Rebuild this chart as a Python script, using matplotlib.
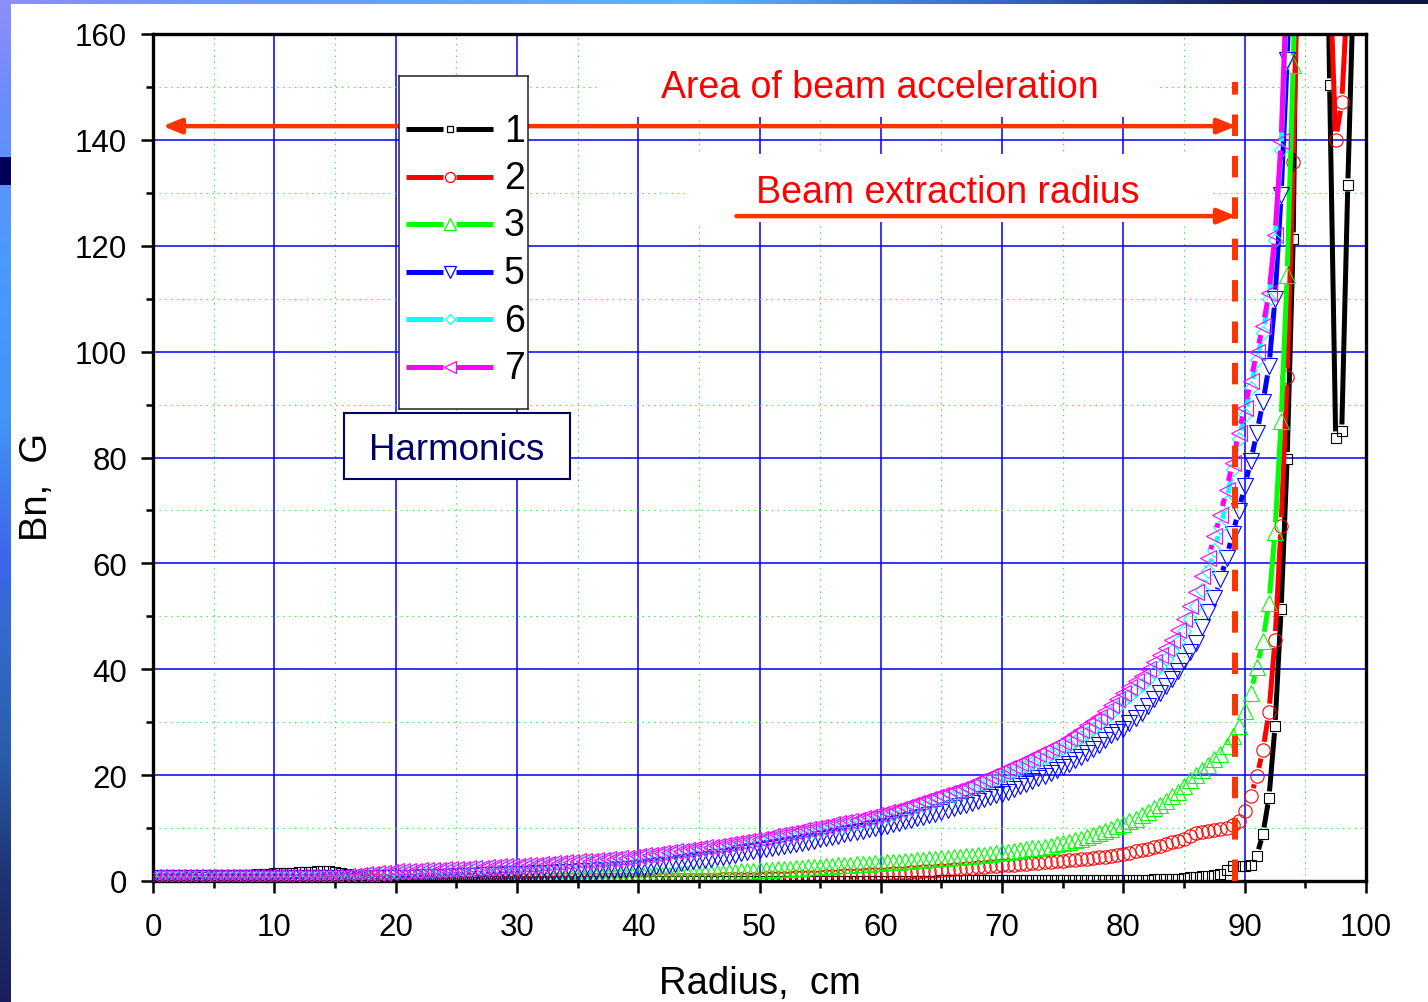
import numpy as np
import matplotlib
matplotlib.use('Agg')
import matplotlib.pyplot as plt
from matplotlib.collections import LineCollection
from matplotlib.patches import Rectangle
from matplotlib.ticker import MultipleLocator

plt.rcParams['font.family'] = ['Liberation Sans', 'DejaVu Sans']

W, H = 1428, 1003

# radius grid of the field map, cm (0.5 cm step)
radius = np.arange(0, 100.5, 0.5)

# harmonic amplitudes Bn, G
bn_1 = [0.4, 0.45, 0.5, 0.55, 0.6, 0.65, 0.7, 0.75, 0.8, 0.85,
        0.9, 0.95, 1.0, 1.05, 1.1, 1.15, 1.2, 1.3, 1.35, 1.4,
        1.45, 1.5, 1.55, 1.6, 1.65, 1.7, 1.75, 1.8, 1.8, 1.8,
        1.75, 1.6, 1.3, 0.9, 0.5, 0.25, 0.1, 0.05, 0.05, 0.05,
        0.05, 0.05, 0.05, 0.05, 0.05, 0.05, 0.05, 0.05, 0.05, 0.05,
        0.05, 0.05, 0.05, 0.05, 0.05, 0.05, 0.05, 0.05, 0.05, 0.05,
        0.05, 0.05, 0.05, 0.05, 0.05, 0.05, 0.05, 0.05, 0.05, 0.05,
        0.05, 0.05, 0.05, 0.05, 0.05, 0.05, 0.05, 0.05, 0.05, 0.05,
        0.05, 0.05, 0.05, 0.05, 0.05, 0.05, 0.05, 0.05, 0.05, 0.05,
        0.05, 0.05, 0.05, 0.05, 0.05, 0.05, 0.05, 0.05, 0.05, 0.05,
        0.05, 0.05, 0.05, 0.05, 0.05, 0.05, 0.05, 0.05, 0.05, 0.05,
        0.05, 0.05, 0.05, 0.05, 0.05, 0.05, 0.05, 0.05, 0.05, 0.05,
        0.05, 0.05, 0.05, 0.05, 0.05, 0.05, 0.05, 0.05, 0.05, 0.05,
        0.1, 0.1, 0.1, 0.1, 0.1, 0.1, 0.1, 0.1, 0.1, 0.1,
        0.1, 0.1, 0.1, 0.1, 0.1, 0.12, 0.14, 0.16, 0.18, 0.2,
        0.2, 0.2, 0.2, 0.2, 0.2, 0.2, 0.2, 0.2, 0.2, 0.2,
        0.2, 0.2, 0.2, 0.25, 0.25, 0.3, 0.3, 0.35, 0.4, 0.45,
        0.6, 0.7, 0.8, 0.9, 1.0, 1.2, 1.4, 2.0, 2.9, 2.9,
        2.9, 3.0, 4.8, 8.9, 15.7, 29.2, 51.3, 79.8, 121.3, 218.0,
        290.0, 320.0, 300.0, 230.0, 150.4, 83.7, 85.0, 131.5, 172.0]

bn_2 = [0.2, 0.2, 0.2, 0.2, 0.2, 0.2, 0.2, 0.2, 0.2, 0.2,
        0.2, 0.2, 0.2, 0.2, 0.2, 0.2, 0.2, 0.2, 0.2, 0.2,
        0.2, 0.2, 0.2, 0.2, 0.2, 0.2, 0.2, 0.2, 0.2, 0.2,
        0.2, 0.2, 0.2, 0.2, 0.2, 0.2, 0.2, 0.2, 0.2, 0.2,
        0.2, 0.2, 0.2, 0.2, 0.2, 0.2, 0.2, 0.2, 0.2, 0.2,
        0.2, 0.2, 0.2, 0.2, 0.2, 0.2, 0.2, 0.2, 0.2, 0.2,
        0.2, 0.2, 0.2, 0.2, 0.2, 0.2, 0.2, 0.2, 0.2, 0.2,
        0.2, 0.2, 0.2, 0.2, 0.2, 0.2, 0.2, 0.2, 0.2, 0.2,
        0.2, 0.2, 0.2, 0.2, 0.2, 0.2, 0.2, 0.2, 0.2, 0.2,
        0.2, 0.2, 0.25, 0.25, 0.3, 0.3, 0.35, 0.35, 0.4, 0.4,
        0.45, 0.5, 0.5, 0.55, 0.6, 0.65, 0.7, 0.7, 0.75, 0.8,
        0.85, 0.9, 0.95, 1.0, 1.05, 1.1, 1.15, 1.2, 1.25, 1.3,
        1.35, 1.4, 1.5, 1.55, 1.6, 1.7, 1.75, 1.8, 1.9, 1.95,
        2.05, 2.1, 2.2, 2.3, 2.4, 2.5, 2.6, 2.7, 2.8, 2.9,
        3.0, 3.05, 3.1, 3.2, 3.3, 3.4, 3.45, 3.55, 3.65, 3.75,
        3.85, 3.95, 4.05, 4.15, 4.25, 4.35, 4.45, 4.6, 4.75, 4.9,
        5.1, 5.35, 5.6, 5.85, 6.1, 6.4, 6.7, 7.0, 7.3, 7.65,
        8.0, 8.5, 9.0, 9.3, 9.5, 9.65, 9.8, 10.1, 10.6, 11.4,
        13.2, 16.0, 19.8, 24.7, 31.9, 45.6, 67.1, 95.2, 135.8, 185.0,
        240.0, 280.0, 260.0, 210.0, 173.0, 140.0, 147.1, 168.6]

bn_3 = [0.4, 0.4, 0.4, 0.4, 0.4, 0.4, 0.4, 0.4, 0.4, 0.4,
        0.4, 0.4, 0.4, 0.4, 0.4, 0.4, 0.4, 0.4, 0.4, 0.4,
        0.4, 0.4, 0.4, 0.4, 0.4, 0.4, 0.4, 0.4, 0.4, 0.4,
        0.4, 0.4, 0.4, 0.4, 0.4, 0.4, 0.4, 0.4, 0.4, 0.4,
        0.4, 0.4, 0.4, 0.4, 0.4, 0.4, 0.4, 0.4, 0.4, 0.4,
        0.4, 0.4, 0.4, 0.4, 0.4, 0.4, 0.4, 0.4, 0.4, 0.4,
        0.4, 0.4, 0.45, 0.45, 0.5, 0.5, 0.5, 0.55, 0.55, 0.6,
        0.6, 0.65, 0.65, 0.7, 0.75, 0.75, 0.8, 0.85, 0.85, 0.9,
        0.9, 0.95, 1.0, 1.05, 1.1, 1.15, 1.2, 1.25, 1.3, 1.35,
        1.4, 1.45, 1.5, 1.55, 1.6, 1.7, 1.75, 1.8, 1.9, 1.95,
        2.0, 2.05, 2.15, 2.2, 2.3, 2.35, 2.45, 2.5, 2.6, 2.65,
        2.7, 2.8, 2.85, 2.95, 3.0, 3.1, 3.15, 3.25, 3.3, 3.4,
        3.4, 3.5, 3.6, 3.65, 3.75, 3.85, 3.95, 4.05, 4.1, 4.2,
        4.3, 4.4, 4.5, 4.6, 4.7, 4.8, 4.9, 5.0, 5.15, 5.25,
        5.4, 5.55, 5.7, 5.85, 6.0, 6.15, 6.3, 6.5, 6.7, 6.95,
        7.2, 7.45, 7.7, 8.0, 8.3, 8.6, 9.0, 9.4, 9.8, 10.3,
        10.8, 11.3, 11.8, 12.4, 13.0, 13.7, 14.4, 15.2, 16.0, 16.9,
        18.0, 19.0, 20.0, 21.0, 22.0, 23.0, 24.0, 25.5, 27.3, 29.3,
        32.2, 35.6, 40.4, 45.4, 52.6, 66.0, 86.9, 114.4, 154.2, 200.0]

bn_5 = [0.5, 0.5, 0.5, 0.5, 0.5, 0.5, 0.5, 0.5, 0.5, 0.5,
        0.5, 0.5, 0.5, 0.5, 0.5, 0.5, 0.5, 0.5, 0.5, 0.5,
        0.5, 0.5, 0.5, 0.5, 0.5, 0.5, 0.5, 0.5, 0.5, 0.5,
        0.5, 0.5, 0.5, 0.5, 0.5, 0.5, 0.55, 0.55, 0.55, 0.6,
        0.6, 0.6, 0.65, 0.65, 0.7, 0.7, 0.75, 0.75, 0.8, 0.85,
        0.9, 0.95, 1.0, 1.0, 1.05, 1.1, 1.15, 1.2, 1.25, 1.3,
        1.3, 1.35, 1.4, 1.45, 1.5, 1.55, 1.6, 1.65, 1.7, 1.75,
        1.8, 1.85, 1.9, 1.95, 2.0, 2.05, 2.1, 2.2, 2.25, 2.3,
        2.4, 2.5, 2.65, 2.8, 2.95, 3.1, 3.25, 3.4, 3.55, 3.7,
        3.9, 4.05, 4.25, 4.45, 4.6, 4.8, 5.0, 5.2, 5.4, 5.6,
        5.8, 6.0, 6.2, 6.4, 6.6, 6.8, 7.0, 7.25, 7.45, 7.65,
        7.9, 8.1, 8.35, 8.55, 8.8, 9.0, 9.25, 9.5, 9.75, 10.0,
        10.2, 10.45, 10.75, 11.0, 11.3, 11.55, 11.85, 12.15, 12.45, 12.75,
        13.1, 13.4, 13.75, 14.1, 14.45, 14.8, 15.15, 15.5, 15.9, 16.2,
        16.5, 16.9, 17.4, 17.9, 18.4, 18.9, 19.4, 19.9, 20.4, 20.9,
        21.5, 22.1, 22.8, 23.5, 24.2, 24.9, 25.7, 26.6, 27.6, 28.2,
        28.8, 29.8, 30.8, 31.8, 33.0, 34.3, 35.6, 36.9, 38.2, 39.7,
        41.5, 43.2, 45.0, 47.9, 50.8, 53.5, 57.0, 61.1, 65.5, 69.9,
        74.6, 79.3, 84.7, 90.4, 97.2, 110.0, 129.6, 155.0, 190.0]

bn_6 = [0.6, 0.6, 0.6, 0.6, 0.6, 0.6, 0.6, 0.6, 0.6, 0.6,
        0.6, 0.6, 0.6, 0.6, 0.6, 0.6, 0.6, 0.6, 0.6, 0.6,
        0.6, 0.6, 0.6, 0.6, 0.6, 0.6, 0.65, 0.65, 0.7, 0.7,
        0.7, 0.75, 0.8, 0.9, 1.0, 1.15, 1.3, 1.4, 1.5, 1.6,
        1.65, 1.7, 1.75, 1.8, 1.85, 1.9, 1.95, 2.0, 2.05, 2.1,
        2.15, 2.2, 2.25, 2.3, 2.4, 2.45, 2.5, 2.55, 2.6, 2.65,
        2.7, 2.8, 2.85, 2.9, 3.0, 3.05, 3.15, 3.2, 3.3, 3.4,
        3.5, 3.55, 3.65, 3.75, 3.8, 3.9, 4.0, 4.1, 4.2, 4.3,
        4.45, 4.6, 4.75, 4.9, 5.0, 5.15, 5.3, 5.45, 5.6, 5.75,
        5.9, 6.05, 6.2, 6.35, 6.5, 6.65, 6.85, 7.05, 7.25, 7.45,
        7.6, 7.8, 8.0, 8.2, 8.45, 8.65, 8.9, 9.1, 9.3, 9.5,
        9.7, 9.95, 10.15, 10.4, 10.65, 10.85, 11.05, 11.3, 11.55, 11.8,
        12.1, 12.35, 12.65, 12.95, 13.3, 13.65, 14.0, 14.35, 14.7, 15.05,
        15.4, 15.8, 16.15, 16.55, 16.95, 17.35, 17.9, 18.35, 18.85, 19.3,
        19.8, 20.3, 20.75, 21.25, 21.7, 22.2, 22.75, 23.3, 23.9, 24.5,
        25.1, 25.75, 26.5, 27.25, 28.0, 28.8, 29.6, 30.6, 31.7, 32.8,
        34.0, 35.0, 36.0, 37.1, 38.2, 39.4, 40.6, 42.0, 43.4, 45.2,
        47.2, 49.5, 52.0, 55.0, 58.5, 62.5, 66.8, 71.6, 77.8, 83.5,
        88.0, 93.2, 98.5, 103.5, 110.0, 121.0, 138.0, 168.0]

bn_7 = [0.7, 0.7, 0.7, 0.7, 0.7, 0.7, 0.7, 0.7, 0.7, 0.7,
        0.7, 0.7, 0.7, 0.7, 0.7, 0.7, 0.7, 0.7, 0.7, 0.7,
        0.7, 0.7, 0.7, 0.7, 0.7, 0.7, 0.75, 0.75, 0.8, 0.8,
        0.8, 0.85, 0.9, 1.0, 1.1, 1.25, 1.4, 1.5, 1.6, 1.7,
        1.8, 1.85, 1.9, 1.95, 2.0, 2.05, 2.1, 2.15, 2.2, 2.25,
        2.3, 2.35, 2.4, 2.5, 2.55, 2.6, 2.7, 2.75, 2.8, 2.85,
        2.9, 3.0, 3.05, 3.1, 3.2, 3.3, 3.35, 3.45, 3.55, 3.6,
        3.7, 3.8, 3.85, 3.95, 4.05, 4.1, 4.2, 4.3, 4.4, 4.55,
        4.7, 4.85, 5.0, 5.15, 5.3, 5.45, 5.6, 5.75, 5.9, 6.05,
        6.2, 6.35, 6.5, 6.65, 6.8, 6.95, 7.2, 7.4, 7.6, 7.8,
        8.0, 8.2, 8.45, 8.65, 8.9, 9.1, 9.35, 9.6, 9.8, 10.0,
        10.2, 10.45, 10.7, 10.95, 11.2, 11.4, 11.6, 11.9, 12.1, 12.4,
        12.7, 13.0, 13.3, 13.65, 14.0, 14.35, 14.7, 15.1, 15.45, 15.8,
        16.2, 16.6, 17.0, 17.4, 17.8, 18.2, 18.8, 19.3, 19.8, 20.3,
        20.8, 21.3, 21.8, 22.3, 22.8, 23.3, 23.9, 24.5, 25.1, 25.7,
        26.3, 27.0, 27.8, 28.6, 29.4, 30.2, 31.0, 32.1, 33.2, 34.3,
        35.5, 36.6, 37.7, 38.8, 40.0, 41.3, 42.6, 44.0, 45.5, 47.4,
        49.5, 52.0, 54.5, 57.7, 61.0, 65.1, 69.2, 73.9, 79.0, 84.7,
        89.4, 94.5, 99.9, 104.8, 111.0, 122.1, 139.7, 172.0]

harmonic_labels = ['1', '2', '3', '5', '6', '7']
harmonic_values = [bn_1, bn_2, bn_3, bn_5, bn_6, bn_7]
colors = ['#000000', '#ff0000', '#00ff00', '#0000ff', '#00ffff', '#ff00ff']
markers = ['s', 'o', '^', 'v', 'D', '<']
marker_sizes = [6.6, 9.6, 11.0, 11.0, 7.3, 11.0]   # pt
gaps = [6.5, 8.5, 9.0, 9.0, 9.0, 9.0]              # px, line gap around symbols

extraction_radius = 89.2
accel_arrow = (0.8, 89.3, 142.6)     # x from, x to, level
extract_arrow = (48.1, 89.3, 125.6)

arrow_color = '#ff3300'
text_red = '#ff0000'
navy = '#000066'


def fig_box(x0, y0, x1, y1):
    return [x0 / W, 1 - y1 / H, (x1 - x0) / W, (y1 - y0) / H]


def gapped_line(ax, x, y, gap, color, lw, z):
    # line segments that stop short of each symbol, as in Origin
    x0, x1 = ax.get_xlim()
    y0, y1 = ax.get_ylim()
    sx = ax.bbox.width / (x1 - x0)
    sy = ax.bbox.height / (y1 - y0)
    segs = []
    for i in range(len(x) - 1):
        dx, dy = x[i + 1] - x[i], y[i + 1] - y[i]
        d = np.hypot(dx * sx, dy * sy)
        if d <= 2 * gap:
            continue
        f = gap / d
        segs.append([(x[i] + dx * f, y[i] + dy * f),
                     (x[i + 1] - dx * f, y[i + 1] - dy * f)])
    lc = LineCollection(segs, colors=color, linewidths=lw, zorder=z,
                        capstyle='butt')
    ax.add_collection(lc, autolim=False)


fig = plt.figure(figsize=(W / 100, H / 100), dpi=100)

# slide background: blue strips along the left and top edges
bg = fig.add_axes([0, 0, 1, 1], zorder=-10)
img = np.ones((H, W, 3))
rows = np.arange(H)
stops_y = [0, 100, 250, 420, 560, 640, 760, 880, 1003]
stops_c = np.array([[0.56, 0.56, 0.98], [0.42, 0.55, 1.0], [0.30, 0.60, 1.0],
                    [0.26, 0.58, 0.96], [0.24, 0.40, 0.92], [0.20, 0.42, 0.80],
                    [0.16, 0.36, 0.66], [0.12, 0.20, 0.45], [0.10, 0.12, 0.36]])
left = np.stack([np.interp(rows, stops_y, stops_c[:, k]) for k in range(3)], axis=1)
img[:, :11] = left[:, None, :]
img[158:186, :11] = [0.0, 0.0, 0.35]
cols = np.arange(W)
stops_x = [0, 300, 700, 1000, 1250, 1428]
stops_t = np.array([[0.55, 0.55, 1.0], [0.40, 0.62, 1.0], [0.35, 0.70, 1.0],
                    [0.22, 0.40, 0.80], [0.08, 0.12, 0.35], [0.05, 0.08, 0.25]])
top = np.stack([np.interp(cols, stops_x, stops_t[:, k]) for k in range(3)], axis=1)
img[:5, :] = top[None, :, :]
bg.imshow(img, extent=[0, W, H, 0], aspect='auto', interpolation='nearest')
bg.set_xlim(0, W)
bg.set_ylim(H, 0)
bg.axis('off')

ax = fig.add_axes(fig_box(153, 35, 1366, 882))
ax.set_xlim(0, 100)
ax.set_ylim(0, 160)
ax.set_axisbelow(True)

ax.xaxis.set_major_locator(MultipleLocator(10))
ax.xaxis.set_minor_locator(MultipleLocator(5))
ax.yaxis.set_major_locator(MultipleLocator(20))
ax.yaxis.set_minor_locator(MultipleLocator(10))
ax.grid(which='major', color='#0000ff', lw=1.1)
ax.grid(which='minor', color='#33ee33', lw=0.8, linestyle=(0, (1.3, 4)))
ax.tick_params(which='major', direction='out', length=8.6, width=1.8,
               labelsize=22.5, top=False, right=False)
ax.tick_params(axis='x', which='major', pad=13.5)
ax.tick_params(axis='y', which='major', pad=10)
ax.tick_params(which='minor', direction='out', length=5, width=1.8,
               top=False, right=False)
for s in ax.spines.values():
    s.set_linewidth(2.4)

ax.set_xlabel('Radius,  cm', fontsize=27.5, labelpad=17)
ax.set_ylabel('Bn,  G', fontsize=27.5)
ax.yaxis.set_label_coords(-0.081, 0.466)

# white areas behind the annotation texts
for box in [(600, 35, 1160, 118), (688, 155, 1210, 223)]:
    x0, y0, x1, y1 = box
    ax.add_patch(Rectangle((x0 / W, 1 - y1 / H), (x1 - x0) / W, (y1 - y0) / H,
                           transform=fig.transFigure, facecolor='white',
                           edgecolor='none', zorder=1))

for k, vals in enumerate(harmonic_values):
    x = radius[:len(vals)]
    y = np.array(vals)
    gapped_line(ax, x, y, gaps[k], colors[k], 3.6, 2 + 0.1 * k)
    ax.plot(x, y, linestyle='none', marker=markers[k], ms=marker_sizes[k],
            mfc='none', mec=colors[k], mew=0.8, zorder=2.05 + 0.1 * k)

ax.plot([extraction_radius, extraction_radius], [0, 151], color=arrow_color,
        lw=4.3, dashes=(3.6, 3.33), dash_capstyle='butt', zorder=4)

ax.annotate('', xy=(accel_arrow[0], accel_arrow[2]), xytext=(accel_arrow[1], accel_arrow[2]),
            arrowprops=dict(arrowstyle='<|-|>,head_length=1.1,head_width=0.45',
                            mutation_scale=10, color=arrow_color, lw=3.2,
                            shrinkA=0, shrinkB=0), zorder=4)
ax.annotate('', xy=(extract_arrow[1], extract_arrow[2]), xytext=(extract_arrow[0], extract_arrow[2]),
            arrowprops=dict(arrowstyle='-|>,head_length=1.1,head_width=0.45',
                            mutation_scale=10, color=arrow_color, lw=3.2,
                            shrinkA=0, shrinkB=0), zorder=4)
ax.text(59.9, 149.9, 'Area of beam acceleration', color=text_red, fontsize=27,
        ha='center', va='center', zorder=5)
ax.text(65.5, 130.1, 'Beam extraction radius', color=text_red, fontsize=27,
        ha='center', va='center', zorder=5)

# legend panel
lg = fig.add_axes(fig_box(399, 77, 528, 410))
lg.set_xlim(399, 528)
lg.set_ylim(410, 77)
lg.set_xticks([])
lg.set_yticks([])
for s in lg.spines.values():
    s.set_linewidth(1.1)
    s.set_color('#222222')
row_y = [130, 177.5, 225, 272.5, 320, 367.5]
for k in range(len(harmonic_labels)):
    yy = row_y[k]
    lg.plot([406, 443], [yy, yy], color=colors[k], lw=3.6, solid_capstyle='butt')
    lg.plot([456, 493], [yy, yy], color=colors[k], lw=3.6, solid_capstyle='butt')
    lg.plot([449.5], [yy], marker=markers[k], ms=marker_sizes[k] * 0.75,
            mfc='none', mec=colors[k], mew=0.9)
    lg.text(504, yy + 1.5, harmonic_labels[k], fontsize=27, ha='left', va='center')

hb = fig.add_axes(fig_box(344, 414, 570, 480))
hb.set_xticks([])
hb.set_yticks([])
for s in hb.spines.values():
    s.set_linewidth(1.5)
    s.set_color(navy)
hb.text(0.5, 0.45, 'Harmonics', color=navy, fontsize=26.5, ha='center',
        va='center', transform=hb.transAxes)

fig.savefig('out.png', dpi=100)
